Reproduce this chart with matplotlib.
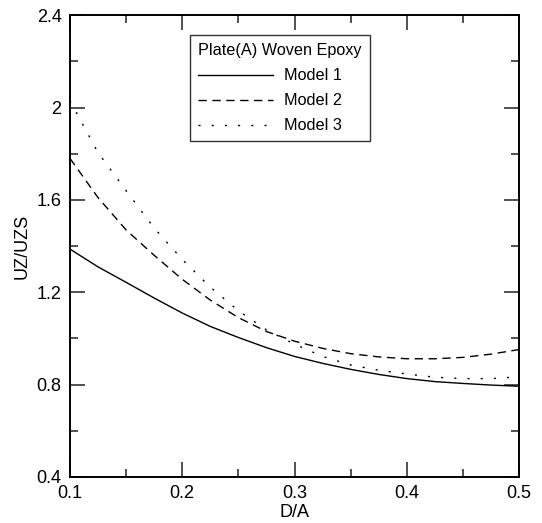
import matplotlib
matplotlib.use("Agg")
import matplotlib.pyplot as plt
import numpy as np
from matplotlib.ticker import MultipleLocator

plt.rcParams['font.family'] = ['Liberation Sans', 'DejaVu Sans']

# D/A values
d_a = [0.1, 0.125, 0.15, 0.175, 0.2, 0.225, 0.25, 0.275, 0.3,
       0.325, 0.35, 0.375, 0.4, 0.425, 0.45, 0.475, 0.5]
model1 = [1.387, 1.31, 1.243, 1.175, 1.11, 1.052, 1.004, 0.96, 0.922,
          0.892, 0.866, 0.844, 0.826, 0.813, 0.805, 0.798, 0.793]
model2 = [1.78, 1.61, 1.47, 1.36, 1.256, 1.166, 1.09, 1.03, 0.988,
          0.957, 0.934, 0.92, 0.912, 0.912, 0.918, 0.932, 0.952]
model3 = [2.03, 1.805, 1.64, 1.478, 1.342, 1.222, 1.12, 1.037, 0.975,
          0.922, 0.885, 0.862, 0.846, 0.832, 0.826, 0.826, 0.834]

fig = plt.figure(figsize=(5.42, 5.23), dpi=100)
ax = fig.add_axes([0.129, 0.088, 0.829, 0.883])

ax.plot(d_a, model1, color='black', lw=1.0, ls='-', label='Model 1')
ax.plot(d_a, model2, color='black', lw=1.0, ls=(0, (6, 4)), label='Model 2')
ax.plot(d_a, model3, color='black', lw=1.0, ls=(0, (1.5, 8)), label='Model 3')

ax.set_xlim(0.1, 0.5)
ax.set_ylim(0.4, 2.4)
ax.xaxis.set_minor_locator(MultipleLocator(0.05))
ax.yaxis.set_minor_locator(MultipleLocator(0.2))
ax.set_xticks([0.1, 0.2, 0.3, 0.4, 0.5])
ax.set_xticklabels(['0.1', '0.2', '0.3', '0.4', '0.5'])
ax.set_yticks([0.4, 0.8, 1.2, 1.6, 2.0, 2.4])
ax.set_yticklabels(['0.4', '0.8', '1.2', '1.6', '2', '2.4'])

ax.tick_params(which='both', direction='in', top=True, right=True,
               labelsize=13, width=1.2, color='#333333')
ax.tick_params(which='major', length=11, pad=6)
ax.tick_params(which='minor', length=6)
for sp in ax.spines.values():
    sp.set_linewidth(1.4)

ax.set_xlabel('D/A', fontsize=13, labelpad=1)
ax.set_ylabel('UZ/UZS', fontsize=13, labelpad=4)

leg = ax.legend(title='Plate(A) Woven Epoxy', loc='upper left',
                bbox_to_anchor=(0.267, 0.957), borderaxespad=0,
                fontsize=11.7, title_fontsize=11.7, frameon=True,
                fancybox=False, handlelength=4.6, handletextpad=0.7,
                borderpad=0.5, labelspacing=0.62, alignment='left')
leg.get_frame().set_edgecolor('black')
leg.get_frame().set_linewidth(1.0)

fig.savefig('out.png', dpi=100)
